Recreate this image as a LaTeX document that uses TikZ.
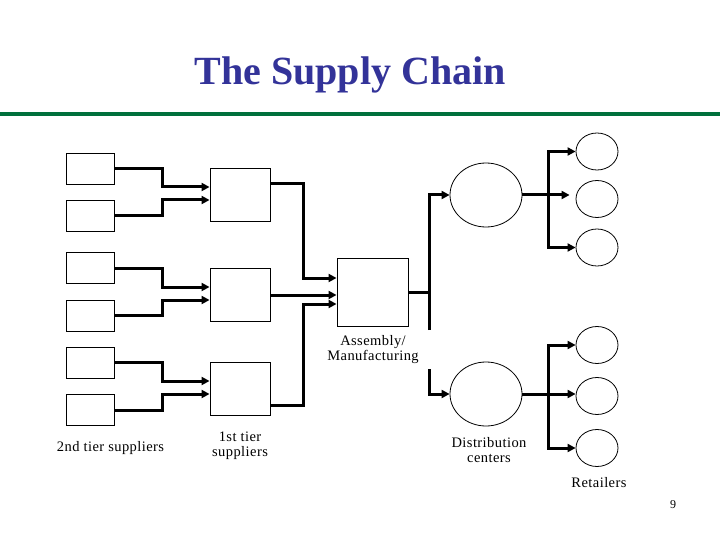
\documentclass[tikz,border=0pt]{standalone}
\usepackage{fontspec}
\setmainfont{Liberation Serif}
\usetikzlibrary{arrows.meta,shapes.geometric}
\definecolor{titleblue}{RGB}{51,51,153}
\definecolor{rulegreen}{RGB}{0,112,60}
\tikzset{
  box/.style={draw,line width=0.9pt,rectangle,inner sep=0pt},
  sbox/.style={box,minimum width=48pt,minimum height=31pt},
  fbox/.style={box,minimum width=60pt,minimum height=53pt},
  oval/.style={draw,line width=0.8pt,ellipse,inner sep=0pt},
  dc/.style={oval,minimum width=72pt,minimum height=64pt},
  ret/.style={oval,minimum width=42pt,minimum height=37pt},
  wire/.style={line width=3pt},
  conn/.style={wire,-{Triangle[length=8pt,width=8pt]}},
  lbl/.style={font=\fontsize{14.5}{15}\selectfont\addfontfeature{LetterSpace=3},align=center,inner sep=0pt},
}
\begin{document}
\begin{tikzpicture}[x=1pt,y=-1pt]
\useasboundingbox[fill=white] (0,0) rectangle (720,540);
% title
\node[font=\fontsize{40}{44}\selectfont\bfseries,text=titleblue,anchor=base,inner sep=0pt] (title) at (350,85) {The Supply Chain};
\fill[rulegreen] (0,112) rectangle (720,116);
% 2nd tier suppliers
\node[sbox] (s1) at (90,168.5) {};
\node[sbox] (s2) at (90,215.5) {};
\node[sbox] (s3) at (90,268) {};
\node[sbox] (s4) at (90,315.5) {};
\node[sbox] (s5) at (90,362.5) {};
\node[sbox] (s6) at (90,410) {};
% 1st tier suppliers
\node[fbox] (f1) at (240,194.5) {};
\node[fbox] (f2) at (240,294.5) {};
\node[fbox] (f3) at (240,389) {};
% assembly
\node[box,minimum width=71pt,minimum height=68pt] (a) at (372.5,292) {};
% distribution centers
\node[dc] (d1) at (486,195) {};
\node[dc] (d2) at (486,394) {};
% retailers
\node[ret] (r1) at (597,151.5) {};
\node[ret] (r2) at (597,199) {};
\node[ret] (r3) at (597,247.5) {};
\node[ret] (r4) at (597,345) {};
\node[ret] (r5) at (597,396) {};
\node[ret] (r6) at (597,448) {};
% 2nd tier -> 1st tier
\draw[conn] (s1.east) -| (162,187) -- (f1.west |- 162,187);
\draw[conn] (s2.east) -| (162,200) -- (f1.west |- 162,200);
\draw[conn] (s3.east) -| (162,287) -- (f2.west |- 162,287);
\draw[conn] (s4.east) -| (162,300) -- (f2.west |- 162,300);
\draw[conn] (s5.east) -| (162,381) -- (f3.west |- 162,381);
\draw[conn] (s6.east) -| (162,394) -- (f3.west |- 162,394);
% 1st tier -> assembly
\draw[conn] (f1.east |- 0,184) -| (303,278) -- (a.west |- 0,278);
\draw[conn] (f2.east |- 0,295) -- (a.west |- 0,295);
\draw[conn] (f3.east |- 0,405) -| (303,304) -- (a.west |- 0,304);
% assembly -> distribution
\coordinate (j1) at (429,292);
\draw[wire] (a.east) -- (j1);
\draw[conn] (429,330) |- (d1.west);
\draw[conn] (429,369) |- (d2.west);
% distribution -> retailers
\coordinate (k1) at (548,195);
\coordinate (k2) at (548,394);
\draw[conn,shorten >=6pt] (d1.east) -- (d1.east -| r2.west);
\draw[conn] (k1) |- (r1.west);
\draw[conn] (k1) |- (r3.west);
\draw[conn] (d2.east) -- (d2.east -| r5.west);
\draw[conn] (k2) |- (r4.west);
\draw[conn] (k2) |- (r6.west);
% labels
\node[lbl,anchor=base] (l1) at (110.5,451) {2nd tier suppliers};
\node[lbl,anchor=base] (l2) at (240,456) {1st tier\\suppliers};
\node[lbl,anchor=base] (l3) at (373,360.5) {Assembly/\\Manufacturing};
\node[lbl,anchor=base] (l4) at (489,462) {Distribution\\centers};
\node[lbl,anchor=base] (l5) at (599,487) {Retailers};
\node[font=\fontsize{12}{14}\selectfont,anchor=base,inner sep=0pt] (pg) at (673,508) {9};
\end{tikzpicture}
\end{document}
